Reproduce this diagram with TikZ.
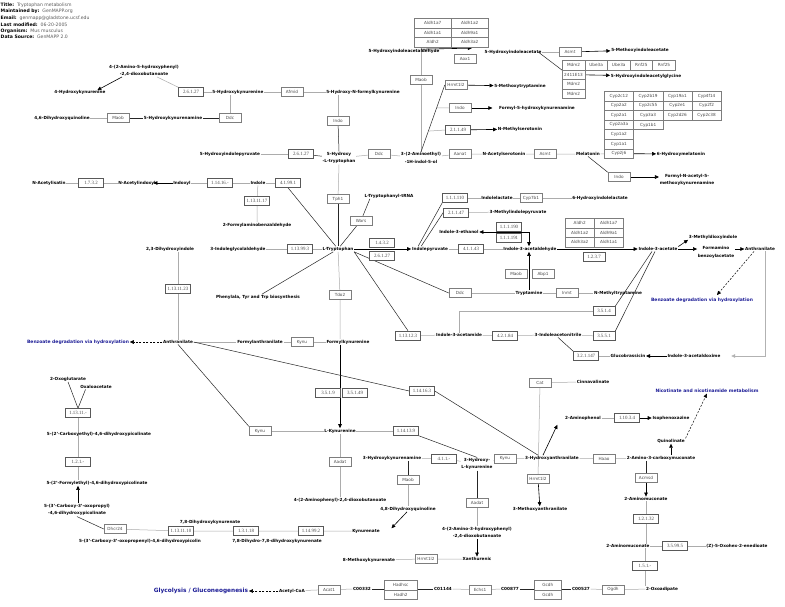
\documentclass[tikz,border=0pt]{standalone}
\usepackage{fontspec}
\setmainfont{DejaVu Sans}
\newfontfamily\ecfont{Liberation Serif}
\usetikzlibrary{arrows.meta,calc,backgrounds}
\definecolor{pathblue}{RGB}{28,28,150}
\definecolor{boxline}{RGB}{125,125,125}
\definecolor{genetext}{RGB}{75,75,75}
\definecolor{hdrval}{RGB}{90,90,90}
\tikzset{
  met/.style={font=\fontsize{4.2}{7.5}\selectfont\bfseries, inner sep=0.6pt, align=center},
  gene/.style={draw=boxline, fill=white, line width=0.5pt, font=\fontsize{4.2}{5}\selectfont,
    text=genetext, inner xsep=2pt, inner ysep=0pt, minimum width=22pt, minimum height=9pt},
  ecbox/.style={gene, font=\ecfont\fontsize{4.9}{5}\selectfont, draw=black!65, minimum width=25pt},
  cell/.style={draw=boxline, fill=white, line width=0.5pt, font=\fontsize{4.2}{5}\selectfont,
    text=genetext, inner sep=0pt, anchor=north west, minimum height=9.6pt},
  rxn/.style={draw=gray!65, line width=0.5pt},
  rxnd/.style={draw=black!85, line width=0.5pt},
  conv/.style={draw=black, line width=0.6pt, -{Triangle[length=4pt,width=3.6pt]}},
  link/.style={draw=black, line width=0.5pt, dash pattern=on 2pt off 1.5pt, -{Triangle[length=4pt,width=3.6pt]}},
  hdr/.style={font=\fontsize{4.6}{5}\selectfont, anchor=west, inner sep=0pt},
  pway/.style={font=\fontsize{4.5}{5}\selectfont\bfseries, text=pathblue, inner sep=0.6pt}
}
\begin{document}
\begin{tikzpicture}[x=1pt,y=-1pt]
\useasboundingbox (0,0) rectangle (785,606);
\begin{scope}[on background layer]
  \fill[white] (0,0) rectangle (785,606);
\end{scope}

% header
\node[hdr] (title) at (0.5,5) {\textbf{Title:}~~\textcolor{hdrval}{Tryptophan metabolism}};
\node[hdr] (maint) at (0.5,11.5) {\textbf{Maintained by:}~~\textcolor{hdrval}{GenMAPP.org}};
\node[hdr] (email) at (0.5,18) {\textbf{Email:}~~\textcolor{hdrval}{genmapp@gladstone.ucsf.edu}};
\node[hdr] (lastmod) at (0.5,24.5) {\textbf{Last modified:}~~\textcolor{hdrval}{06-20-2005}};
\node[hdr] (organism) at (0.5,31) {\textbf{Organism:}~~\textcolor{hdrval}{Mus musculus}};
\node[hdr] (source) at (0.5,37) {\textbf{Data Source:}~~\textcolor{hdrval}{GenMAPP 2.0}};

% 5-hydroxy branch, top left
\node[met] (m4a5h) at (144,70.5) {4-(2-Amino-5-hydroxyphenyl)\\-2,4-dioxobutanoate};
\node[met] (m4hk) at (80,92) {4-Hydroxykynurenine};
\node[ecbox] (e26127a) at (191,92) {2.6.1.27};
\node[met] (m5hk) at (238,92) {5-Hydroxykynurenine};
\node[gene] (gAfmid) at (292,92) {Afmid};
\node[met] (m5hnfk) at (363,92) {5-Hydroxy-N-formylkynurenine};
\node[met] (m46dhq) at (62,118) {4,6-Dihydroxyquinoline};
\node[gene] (gMaobA) at (118,118) {Maob};
\node[met] (m5hkn) at (173,118) {5-Hydroxykynurenamine};
\node[gene] (gDdcA) at (230,118) {Ddc};
\node[gene] (gIndoA) at (338,121) {Indo};
\node[met] (m5hip) at (230,154) {5-Hydroxyindolepyruvate};
\node[ecbox] (e26127b) at (301,154) {2.6.1.27};
\node[met] (m5htp) at (339,158) {5-Hydroxy\\-L-tryptophan};
\node[gene] (gDdcB) at (379,154) {Ddc};
\node[met] (m5ht) at (421,158) {3-(2-Aminoethyl)\\-1H-indol-5-ol};
\node[gene] (gAanat) at (460,154) {Aanat};
\node[met] (mnas) at (504,154) {N-Acetylserotonin};
\node[gene] (gAsmtA) at (545,154) {Asmt};
\node[met] (mmel) at (588,154) {Melatonin};

% serotonin side products
\node[gene] (gMaobB) at (421,80) {Maob};
\node[gene] (gHrmtA) at (456,85) {Hrmt1l2};
\node[met] (m5mt) at (520,86) {5-Methoxytryptamine};
\node[gene] (gIndoC) at (460,108) {Indo};
\node[met] (mf5hk) at (537,108) {Formyl-5-hydroxykynurenamine};
\node[ecbox] (e21149) at (458,130) {2.1.1.49};
\node[met] (mnms) at (520,129) {N-Methylserotonin};

% aldehyde dehydrogenases
\begin{scope}[cell/.append style={minimum width=37pt}]
  \node[cell] (aldh11) at (414,18) {Aldh1a7};
  \node[cell] (aldh12) at (451,18) {Aldh1a2};
  \node[cell] (aldh21) at (414,27.6) {Aldh1a1};
  \node[cell] (aldh22) at (451,27.6) {Aldh9a1};
  \node[cell] (aldh31) at (414,37.2) {Aldh2};
  \node[cell] (aldh32) at (451,37.2) {Aldh3a2};
\end{scope}
\node[met] (m5hial) at (404,51) {5-Hydroxyindoleacetaldehyde};
\node[gene] (gAox1) at (465,58.5) {Aox1};
\node[met] (m5hiaa) at (513,52) {5-Hydroxyindoleacetate};
\node[gene] (gAsmtB) at (570,52) {Asmt};
\node[met] (m5mia) at (640,50) {5-Methoxyindoleacetate};
\begin{scope}[cell/.append style={minimum width=22.6pt}]
  \node[cell] (mdm1) at (562,60) {Mdm2};
  \node[cell] (mdm2) at (562,69.6) {2411E13};
  \node[cell] (mdm3) at (562,79.2) {Mdm2};
  \node[cell] (mdm4) at (562,88.8) {Mdm2};
  \node[cell] (ube1) at (584.6,60) {Ube3a};
  \node[cell] (ube2) at (607.2,60) {Ube3a};
  \node[cell] (rnf1) at (629.8,60) {Rnf25};
  \node[cell] (rnf2) at (652.4,60) {Rnf25};
\end{scope}
\node[met] (m5hiag) at (646,76) {5-Hydroxyindoleacetylglycine};

% cytochromes
\begin{scope}[cell/.append style={minimum width=29.25pt}]
  \node[cell] (cyp11) at (604,91) {Cyp2c12};
  \node[cell] (cyp12) at (633.25,91) {Cyp2b19};
  \node[cell] (cyp13) at (662.5,91) {Cyp19a1};
  \node[cell] (cyp14) at (691.75,91) {Cyp4f14};
  \node[cell] (cyp21) at (604,100.6) {Cyp2a2};
  \node[cell] (cyp22) at (633.25,100.6) {Cyp2c55};
  \node[cell] (cyp23) at (662.5,100.6) {Cyp2e1};
  \node[cell] (cyp24) at (691.75,100.6) {Cyp2f2};
  \node[cell] (cyp31) at (604,110.2) {Cyp2a1};
  \node[cell] (cyp32) at (633.25,110.2) {Cyp3a3};
  \node[cell] (cyp33) at (662.5,110.2) {Cyp2d26};
  \node[cell] (cyp34) at (691.75,110.2) {Cyp2c38};
  \node[cell] (cyp41) at (604,119.8) {Cyp2a3a};
  \node[cell] (cyp42) at (633.25,119.8) {Cyp1b1};
  \node[cell] (cyp5) at (604,129.4) {Cyp1a2};
  \node[cell] (cyp6) at (604,139) {Cyp1a1};
  \node[cell] (cyp7) at (604,148.6) {Cyp2j6};
\end{scope}
\node[met] (m6hm) at (681,154) {6-Hydroxymelatonin};
\node[gene] (gIndoB) at (619,177) {Indo};
\node[met] (mfam) at (687,180) {Formyl-N-acetyl-5-\\methoxykynurenamine};

% indole branch
\node[met] (mnai) at (49,183) {N-Acetylisatin};
\node[ecbox] (e1732) at (91,183) {1.7.3.2};
\node[met] (mnaind) at (137,183) {N-Acetylindoxyl};
\node[met] (mindoxyl) at (182,183) {Indoxyl};
\node[ecbox] (e11416) at (220,183) {1.14.16.-};
\node[met] (mindole) at (258,183) {Indole};
\node[ecbox] (e41991) at (288,183) {4.1.99.1};
\node[ecbox] (e1131117) at (257,200.5) {1.13.11.17};
\node[met] (mfab) at (257,225) {2-Formylaminobenzaldehyde};
\node[gene] (gTph1) at (338,199) {Tph1};
\node[met] (mttrna) at (389,196) {L-Tryptophanyl-tRNA};
\node[gene] (gWars) at (361,220.5) {Wars};

% tryptophan hub
\node[met] (mtrp) at (338,249) {L-Tryptophan};
\node[met] (migl) at (238,249) {3-Indoleglycolaldehyde};
\node[ecbox] (e113993) at (300,249) {1.13.99.3};
\node[met] (mphe) at (258,297) {Phenylala, Tyr and Trp biosynthesis};
\node[gene] (gTdo2) at (340,295) {Tdo2};
\node[met] (m23dhi) at (170,249) {2,3-Dihydroxyindole};
\node[ecbox] (e1131123) at (178,289) {1.13.11.23};
\node[met] (manthA) at (178,342) {Anthranilate};
\node[pway] (pbenzA) at (78,342) {Benzoate degradation via hydroxylation};
\node[met] (mfanth) at (260,342) {Formylanthranilate};
\node[gene] (gKynuA) at (302,342) {Kynu};
\node[met] (mfkyn) at (348,342) {Formylkynurenine};
\node[ecbox] (e3519) at (328,392.5) {3.5.1.9};
\node[ecbox] (e35149) at (355,392.5) {3.5.1.49};
\node[ecbox] (e114163) at (422,391) {1.14.16.3};

% kynurenine branch
\node[gene] (gKynuB) at (260,431) {Kynu};
\node[met] (mkyn) at (340,431) {L-Kynurenine};
\node[ecbox] (e114139) at (406,431) {1.14.13.9};
\node[gene] (gAadatA) at (340,461.5) {Aadat};
\node[met] (m4apd) at (340,500) {4-(2-Aminophenyl)-2,4-dioxobutanoate};
\node[met] (m3hkn) at (392,458) {3-Hydroxykynurenamine};
\node[ecbox] (e411) at (444,458.5) {4.1.1.-};
\node[met] (m3hk) at (477,464) {3-Hydroxy-\\L-kynurenine};
\node[gene] (gKynuC) at (505,458.5) {Kynu};
\node[met] (m3ha) at (552,458) {3-Hydroxyanthranilate};
\node[gene] (gHaao) at (604,458.5) {Haao};
\node[met] (macms) at (661,458) {2-Amino-3-carboxymuconate};
\node[gene] (gMaobC) at (408,479.5) {Maob};
\node[met] (m48dhq) at (408,509) {4,8-Dihydroxyquinoline};
\node[met] (mkyna) at (366,531) {Kynurenate};
\node[gene] (gAadatB) at (477,502.5) {Aadat};
\node[met] (m4ahpd) at (477,532.5) {4-(2-Amino-3-hydroxyphenyl)\\-2,4-dioxobutanoate};
\node[met] (mxan) at (477,559) {Xanthurenic};
\node[gene] (gHrmtB) at (426,559) {Hrmt1l2};
\node[met] (m8mk) at (369,560) {8-Methoxykynurenate};
\node[gene] (gCat) at (540,382.5) {Cat};
\node[met] (mcinn) at (593,382) {Cinnavalinate};
\node[gene] (gHrmtC) at (538,478.5) {Hrmt1l2};
\node[met] (m3ma) at (540,509) {3-Methoxyanthranilate};
\node[met] (m2ap) at (583,418) {2-Aminophenol};
\node[ecbox] (e11034) at (627,418) {1.10.3.4};
\node[met] (miso) at (671,418) {Isophenoxazine};
\node[met] (mquin) at (671,441) {Quinolinate};
\node[pway] (pnic) at (707,391) {Nicotinate and nicotinamide metabolism};
\node[gene] (gAcmsd) at (646,478) {Acmsd};
\node[met] (m2ams) at (646,499) {2-Aminomuconate};
\node[ecbox] (e12132) at (646,518.5) {1.2.1.32};
\node[met] (m2am) at (628,546) {2-Aminomuconate};
\node[ecbox] (e35995) at (675,546) {3.5.99.5};
\node[met] (mzoh) at (737,546) {(Z)-5-Oxohex-2-enedioate};
\node[ecbox] (e151) at (645,565.5) {1.5.1.-};
\node[met] (m2oa) at (662,589) {2-Oxoadipate};
\node[gene] (gOgdh) at (613,589.5) {Ogdh};
\node[met] (mc527) at (581,589) {C00527};
\begin{scope}[cell/.append style={minimum width=27pt, minimum height=9.5pt}]
  \node[cell] (gGcdh1) at (534,580) {Gcdh};
  \node[cell] (gGcdh2) at (534,589.5) {Gcdh};
\end{scope}
\node[met] (mc877) at (510,589) {C00877};
\node[gene] (gEchs1) at (480,589.5) {Echs1};
\node[met] (mc1144) at (443,589) {C01144};
\begin{scope}[cell/.append style={minimum width=33pt, minimum height=9.5pt}]
  \node[cell] (gHadhsc) at (384,580) {Hadhsc};
  \node[cell] (gHadh2) at (384,589.5) {Hadh2};
\end{scope}
\node[met] (mc332) at (362,589) {C00332};
\node[gene] (gAcat1) at (329,589.5) {Acat1};
\node[met] (macoa) at (292,591) {Acetyl-CoA};
\node[pway, font=\fontsize{5.8}{6}\selectfont\bfseries] (pgly) at (201,591) {Glycolysis / Gluconeogenesis};

% picolinate branch, bottom left
\node[met] (m2og) at (68,379) {2-Oxoglutarate};
\node[met] (moaa) at (96,387) {Oxaloacetate};
\node[ecbox] (e11311) at (78,413) {1.13.11.-};
\node[met] (m5cedp) at (99,434) {5-(2'-Carboxyethyl)-4,6-dihydroxypicolinate};
\node[ecbox] (e121) at (78,462) {1.2.1.-};
\node[met] (m5fedp) at (97,483) {5-(2'-Formylethyl)-4,6-dihydroxypicolinate};
\node[met] (m5ccop) at (77,510) {5-(3'-Carboxy-3'-oxopropyl)\\-4,6-dihydroxypicolinate};
\node[gene] (gDhcr24) at (115,529) {Dhcr24};
\node[ecbox] (e1131110) at (181,531) {1.13.11.10};
\node[met] (m5ccopn) at (140,541) {5-(3'-Carboxy-3'-oxopropenyl)-4,6-dihydroxypicolin};
\node[met] (m78dhk) at (210,522) {7,8-Dihydroxykynurenate};
\node[ecbox] (e13118) at (246,531) {1.3.1.18};
\node[met] (m78dh) at (277,541) {7,8-Dihydro-7,8-dihydroxykynurenate};
\node[ecbox] (e114992) at (311,531) {1.14.99.2};

% indole-3 acids, right middle
\node[ecbox] (e111110) at (455,198) {1.1.1.110};
\node[met] (milac) at (497,198) {Indolelactate};
\node[gene] (gCyp7b1) at (531,198) {Cyp7b1};
\node[met] (m6hil) at (600,198) {6-Hydroxyindolelactate};
\node[ecbox] (e21147) at (456,212.5) {2.1.1.47};
\node[met] (m3mip) at (518,212) {3-Methylindolepyruvate};
\node[ecbox] (e1432) at (382,242.5) {1.4.3.2};
\node[ecbox] (e26127c) at (382,256) {2.6.1.27};
\node[met] (mipyr) at (430,249) {Indolepyruvate};
\node[ecbox] (e41143) at (471,249) {4.1.1.43};
\node[met] (miaald) at (530,249) {Indole-3-acetaldehyde};
\node[met] (mieth) at (459,232) {Indole-3-ethanol};
\node[ecbox] (e111190) at (509,227) {1.1.1.190};
\node[ecbox] (e111191) at (509,237.5) {1.1.1.191};
\coordinate (ethk) at (529,232);
\node[gene] (gMaobD) at (516,274) {Maob};
\node[gene] (gAbp1) at (543,274) {Abp1};
\node[met] (mtryp) at (529,293) {Tryptamine};
\node[gene] (gDdcC) at (460,293) {Ddc};
\node[gene] (gInmt) at (567,293) {Inmt};
\node[met] (mnmt) at (618,293) {N-Methyltryptamine};
\begin{scope}[cell/.append style={minimum width=29pt}]
  \node[cell] (aldhb11) at (565,218) {Aldh2};
  \node[cell] (aldhb12) at (594,218) {Aldh1a7};
  \node[cell] (aldhb21) at (565,227.6) {Aldh1a2};
  \node[cell] (aldhb22) at (594,227.6) {Aldh9a1};
  \node[cell] (aldhb31) at (565,237.2) {Aldh3a2};
  \node[cell] (aldhb32) at (594,237.2) {Aldh1a1};
\end{scope}
\node[ecbox, minimum width=22pt] (e1237) at (594,256.5) {1.2.3.7};
\node[met] (mia) at (658,249) {Indole-3-acetate};
\node[met] (m3mdi) at (713,237) {3-Methyldioxyindole};
\node[met] (mfba) at (716,252.5) {Formamino\\benzoylacetate};
\node[met] (manthB) at (760,249) {Anthranilate};
\node[pway] (pbenzB) at (702,300) {Benzoate degradation via hydroxylation};
\node[ecbox, minimum width=22pt] (e3514) at (604,311) {3.5.1.4};
\node[ecbox, minimum width=22pt] (e3551) at (604,336) {3.5.5.1};
\node[ecbox] (e113123) at (408,335.5) {1.13.12.3};
\node[met] (miam) at (459,335) {Indole-3-acetamide};
\node[ecbox] (e42184) at (505,335.5) {4.2.1.84};
\node[met] (mian) at (558,335) {3-Indoleacetonitrile};
\node[ecbox] (e321147) at (586,356) {3.2.1.147};
\node[met] (mglu) at (628,356) {Glucobrassicin};
\node[met] (miaox) at (694,356) {Indole-3-acetaldoxime};

\begin{scope}[on background layer]
  % top left
  \draw[conv] ($(m4a5h.south)+(-22,0)$) -- ($(m4hk.north east)+(-9,1)$);
  \draw[rxn] (e26127a.north west) -- ($(m4a5h.south)+(13,0)$);
  \draw[rxn] (e26127a) -- (m5hk) -- (gAfmid) -- (m5hnfk);
  \draw[rxn] (m46dhq) -- (gMaobA);
  \draw[rxnd] (gMaobA) -- (m5hkn) -- (gDdcA);
  \draw[rxn] (gDdcA) -- (gDdcA |- m5hk.south);
  \draw[rxn] (gIndoA |- m5hnfk.south) -- (gIndoA);
  \draw[rxnd] (gIndoA) -- (m5htp.north);
  \draw[rxn] (m5hip) -- (e26127b);
  \draw[rxnd] (e26127b) -- (m5htp);
  \draw[rxn] (m5htp) -- (gDdcB) -- (m5ht) -- (gAanat) -- (mnas) -- (gAsmtA) -- (mmel) -- (cyp7);
  \draw[conv] (cyp7) -- (m6hm);
  \draw[rxnd] (mmel.south) -- (gIndoB.north west);
  \draw[conv] (gIndoB) -- (mfam.west |- gIndoB);
  \draw[rxn] (m5htp.south) -- (gTph1);
  \draw[rxnd] (gTph1) -- (mtrp.north);
  % serotonin
  \draw[rxn] (m5ht.north) -- (gMaobB) -- (gMaobB |- aldh31.south);
  \draw[rxnd] (m5ht.north) -- (gHrmtA.west)
    coordinate[pos=0.31] (bE) coordinate[pos=0.66] (bI);
  \draw[rxn] (bI) -- (gIndoC.west);
  \draw[rxn] (bE) -- (e21149.west);
  \draw[conv] (gHrmtA) -- (m5mt);
  \draw[conv] (gIndoC) -- ($(mf5hk.west)+(-6,0)$);
  \draw[conv] (e21149) -- (mnms);
  \draw[conv] ($(gMaobB |- m5hial.north)+(0,1)$) -- ($(m5hiaa.north west)+(-12,-1)$);
  \draw[rxn] (m5hiaa) -- (gAsmtB);
  \draw[conv] (gAsmtB) -- (m5mia);
  \draw[rxnd] ($(m5hiaa.east)+(-4,0)$) -- (mdm1.south west);
  \draw[conv] (mdm2) -- (m5hiag);
  % indole
  \draw[rxn] (mnai) -- (e1732) -- (mnaind);
  \draw[conv] (mindoxyl) -- ($(mnaind.east)+(-3,0)$);
  \draw[rxn] (mindoxyl) -- (e11416) -- (mindole) -- (e41991);
  \draw[rxn] (mindole) -- (e1131117) -- (mfab);
  \draw[rxnd] (e41991.south) -- (mtrp);
  \draw[rxnd] (mtrp) -- (gWars) -- ($(mttrna.south west)+(6,0)$);
  % tryptophan hub
  \draw[rxn] (migl) -- (e113993) -- (mtrp);
  \draw[rxnd] ($(mphe.north)+(4,0)$) -- (mtrp);
  \draw[rxn] (mtrp) -- (gTdo2) -- (gTdo2 |- mfkyn.north);
  \draw[rxn] (e1131123 |- m23dhi.south) -- (e1131123) -- (manthA.north);
  \draw[link] (manthA) -- (pbenzA);
  \draw[rxn] (manthA) -- (mfanth) -- (gKynuA) -- (mfkyn);
  \draw[conv] (gTdo2 |- mfkyn.south) -- (mkyn.north);
  \draw[rxnd] (manthA.east) -- (e114163.west);
  \draw[rxnd] (e114163.east) -- ($(m3ha.north)+(-14,0)$);
  \draw[rxnd] (manthA.south) -- (gKynuB.north west);
  % kynurenine
  \draw[rxn] (gKynuB) -- (mkyn) -- (e114139);
  \draw[rxnd] (e114139.south east) -- (m3hk.north);
  \draw[rxn] (mkyn) -- (gAadatA) -- (m4apd);
  \draw[rxn] (m3hkn) -- (e411) -- (m3hk) -- (gKynuC) -- (m3ha) -- (gHaao) -- (macms);
  \draw[rxnd] (gMaobC |- m3hkn.south) -- (gMaobC);
  \draw[rxn] (gMaobC) -- (m48dhq);
  \draw[conv] ($(m48dhq.south)+(-1,0)$) -- ($(mkyna.north east)+(11,0)$);
  \draw[rxnd] (m3hk.south) -- (gAadatB);
  \draw[rxn] (gAadatB) -- (m4ahpd);
  \draw[conv] (m4ahpd) -- (mxan);
  \draw[rxn] (m8mk) -- (gHrmtB) -- (mxan);
  \draw[rxn] (gCat) -- (mcinn);
  \draw[rxn] (gCat) -- (gHrmtC);
  \draw[conv] (gHrmtC) -- (m3ma);
  \draw[conv] ($(m3ha.north)+(-9,0)$) -- ($(m2ap.south west)+(-7,4)$);
  \draw[rxn] (m2ap) -- (e11034);
  \draw[conv] (e11034) -- (miso);
  \draw[conv] (macms.north -| mquin) -- (mquin.south);
  \draw[link] (mquin.north east) -- (pnic.south);
  \draw[rxnd] (gAcmsd |- macms.south) -- (gAcmsd);
  \draw[conv] (gAcmsd) -- (m2ams);
  \draw[rxn] (m2ams) -- (e12132) -- (e12132 |- m2am.north);
  \draw[rxn] (m2am) -- (e35995) -- (mzoh);
  \draw[rxn] (e151 |- m2am.south) -- (e151) -- (e151 |- m2oa.north);
  \draw[rxn] (mc527) -- (gOgdh) -- (m2oa);
  \draw[rxnd] (mc877) -- (mc527);
  \draw[rxn] (mc1144) -- (gEchs1) -- (mc877);
  \draw[rxnd] (mc332) -- (mc1144);
  \draw[rxn] (macoa) -- (gAcat1) -- (mc332);
  \draw[link] (macoa) -- (pgly);
  % picolinates
  \draw[rxnd] (m2og.south) -- (e11311.north);
  \draw[rxnd] ($(moaa.south west)+(6,0)$) -- (e11311.north);
  \draw[rxn] (e11311) -- (e121) -- (e121 |- m5fedp.north);
  \draw[conv] (e121 |- m5ccop.north) -- (e121 |- m5fedp.south);
  \draw[rxnd] (m5ccop.south) -- (gDhcr24.west);
  \draw[rxn] (gDhcr24) -- (e1131110) -- (e13118) -- (e114992) -- (mkyna);
  % indole-3 acids
  \draw[rxn] (e111110) -- (milac) -- (gCyp7b1) -- (m6hil);
  \draw[rxn] (e21147) -- (m3mip);
  \draw[rxnd] ($(mipyr.north west)+(7,0)$) -- (e111110.south west);
  \draw[rxnd] ($(mipyr.north west)+(10,0)$) -- (e21147.west);
  \draw[conv] (mtrp) -- (mipyr);
  \draw[rxn] (mipyr) -- (e41143) -- (miaald);
  \draw[{Triangle[length=4pt,width=3.6pt]}-{Triangle[length=4pt,width=3.6pt]}, draw=black, line width=0.6pt]
    (mieth.east) -- (ethk) -- (ethk |- miaald.north);
  \draw[rxnd] (mtrp.south east) -- (gDdcC.west);
  \draw[rxn] (gDdcC) -- (mtryp) -- (gInmt) -- (mnmt);
  \draw[conv] (mtryp.north) -- (mtryp.north |- miaald.south);
  \draw[conv] (miaald) -- (mia);
  \draw[conv] (mia.north east) -- (m3mdi.south west);
  \draw[conv] (mia) -- (mfba.west |- mia);
  \draw[conv] (mfba.east |- manthB) -- (manthB);
  \draw[link] ($(manthB.south)+(-6,0)$) -- ($(pbenzB.north)+(15,-2)$);
  \draw[rxnd] ($(mia.south)+(-6,0)$) -- (e3514.north east);
  \draw[rxnd] ($(mia.south)+(-3,0)$) -- (e3551.north east);
  \draw[rxn] (e3514.west) -- (e3514.west -| miam) -- (miam.north);
  \draw[rxnd] (mtrp.south east) -- (e113123.north);
  \draw[rxn] (e113123) -- (miam) -- (e42184) -- (mian) -- (e3551);
  \draw[rxnd] (mian.south) -- (e321147.north west);
  \draw[rxn] (e321147) -- (mglu);
  \draw[conv] (miaox) -- (mglu);
  \draw[conv, draw=gray!60] ($(manthB.south)+(5,0)$) |- ($(miaox.east)+(10,0)$);
\end{scope}
\end{tikzpicture}
\end{document}
